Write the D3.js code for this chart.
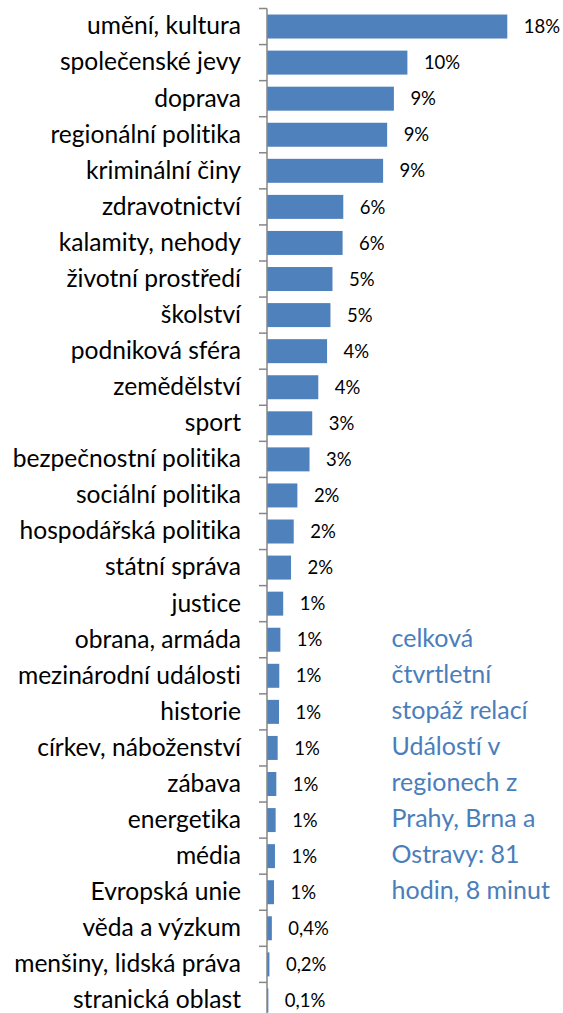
<!DOCTYPE html>
<html>
<head>
<meta charset="utf-8">
<script src="https://cdn.jsdelivr.net/npm/d3@7"></script>
<style>
  body { margin: 0; background: #fff; }
  svg { display: block; font-family: Lato, "Liberation Sans", sans-serif; font-variant-ligatures: none; }
</style>
</head>
<body>
<div id="chart"></div>
<script>
const width = 563;
const height = 1013;

// Data (share of total airtime, %)
const categories = [
  "umění, kultura", "společenské jevy", "doprava", "regionální politika",
  "kriminální činy", "zdravotnictví", "kalamity, nehody", "životní prostředí",
  "školství", "podniková sféra", "zemědělství", "sport",
  "bezpečnostní politika", "sociální politika", "hospodářská politika", "státní správa",
  "justice", "obrana, armáda", "mezinárodní události", "historie",
  "církev, náboženství", "zábava", "energetika", "média",
  "Evropská unie", "věda a výzkum", "menšiny, lidská práva", "stranická oblast"
];
const values = [
  17.8, 10.4, 9.4, 8.9, 8.6, 5.65, 5.6, 4.85, 4.7, 4.45, 3.8, 3.35, 3.15, 2.25,
  1.98, 1.78, 1.2, 0.99, 0.91, 0.89, 0.79, 0.69, 0.64, 0.59, 0.52, 0.36, 0.18, 0.1
];
const valueLabels = [
  "18%", "10%", "9%", "9%", "9%", "6%", "6%", "5%", "5%", "4%", "4%", "3%", "3%", "2%",
  "2%", "2%", "1%", "1%", "1%", "1%", "1%", "1%", "1%", "1%", "1%", "0,4%", "0,2%", "0,1%"
];
const noteLines = [
  "celková", "čtvrtletní", "stopáž relací", "Událostí v",
  "regionech z", "Prahy, Brna a", "Ostravy: 81", "hodin, 8 minut"
];

const axisX = 267;
const svg = d3.select("#chart")
    .append("svg")
    .attr("width", width)
    .attr("height", height);

const x = d3.scaleLinear()
    .domain([0, 20])
    .range([axisX, axisX + 270]);

const y = d3.scaleBand()
    .domain(categories)
    .range([8.5, 8.5 + categories.length * 36.07])
    .paddingInner(0.335)
    .paddingOuter(0.1675);

// Category labels
svg.append("g")
    .attr("transform", `translate(${axisX},0)`)
    .call(d3.axisLeft(y).tickSize(0).tickPadding(26))
    .call(g => g.select(".domain").remove())
    .selectAll("text")
    .attr("font-family", "Lato, sans-serif")
    .attr("font-size", 24.6)
    .attr("fill", "#000");

// Bars
svg.selectAll("rect.bar")
    .data(categories)
  .enter().append("rect")
    .attr("class", "bar")
    .attr("x", x(0))
    .attr("y", d => y(d))
    .attr("width", (d, i) => x(values[i]) - x(0))
    .attr("height", y.bandwidth())
    .attr("fill", "#4F81BD");

// Value labels
svg.selectAll("text.val")
    .data(categories)
  .enter().append("text")
    .attr("class", "val")
    .attr("x", (d, i) => x(values[i]) + 16.5)
    .attr("y", d => y(d) + y.bandwidth() / 2)
    .attr("dy", "0.36em")
    .attr("font-size", 18.5)
    .attr("fill", "#000")
    .text((d, i) => valueLabels[i]);

// Axis line with tick marks between categories
const step = y.step();
const y0 = y.range()[0];
svg.append("line")
    .attr("x1", axisX).attr("x2", axisX)
    .attr("y1", y0).attr("y2", y.range()[1])
    .attr("stroke", "#868686")
    .attr("stroke-width", 1.5);
svg.selectAll("line.tick")
    .data(d3.range(categories.length + 1))
  .enter().append("line")
    .attr("class", "tick")
    .attr("x1", axisX - 8).attr("x2", axisX)
    .attr("y1", i => y0 + i * step)
    .attr("y2", i => y0 + i * step)
    .attr("stroke", "#868686")
    .attr("stroke-width", 1.5);

// Note
svg.append("text")
    .attr("x", 391.5)
    .attr("y", 647)
    .attr("font-size", 25)
    .attr("fill", "#4A7EBB")
  .selectAll("tspan")
    .data(noteLines)
  .enter().append("tspan")
    .attr("x", 391.5)
    .attr("dy", (d, i) => i === 0 ? 0 : 36)
    .text(d => d);
</script>
</body>
</html>
